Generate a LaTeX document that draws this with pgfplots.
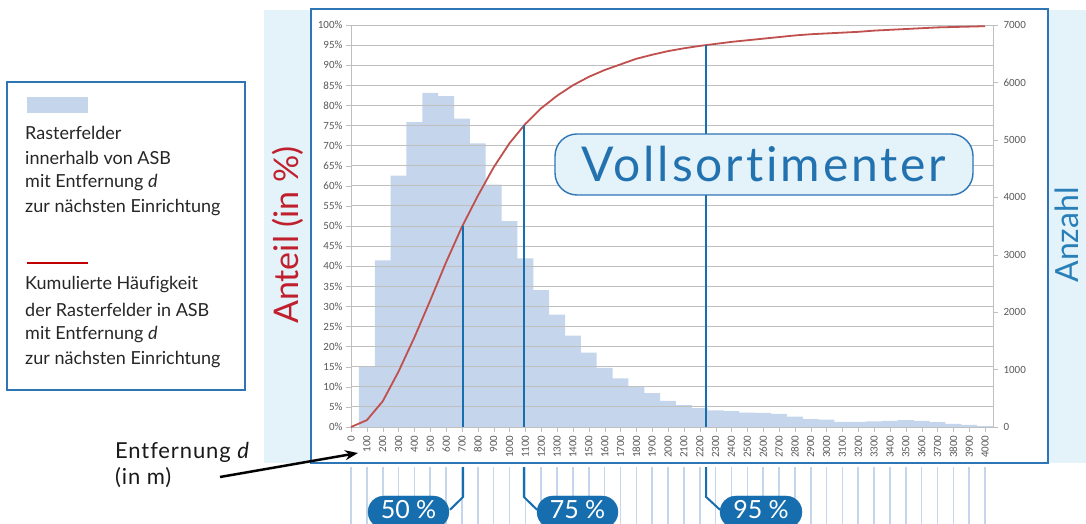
\documentclass[border=0pt]{standalone}
\usepackage{pgfplots}
\pgfplotsset{compat=1.18}
\usepackage{fontspec}
\setmainfont{Carlito}
\newfontfamily\lab[Ligatures=NoCommon]{Lato}
\usetikzlibrary{arrows.meta}
\definecolor{barblue}{RGB}{197,214,236}
\definecolor{curvered}{RGB}{192,80,77}
\definecolor{panel}{RGB}{228,242,250}
\definecolor{frame}{RGB}{46,117,182}
\definecolor{dblue}{RGB}{23,110,175}
\definecolor{ticklab}{RGB}{89,89,89}
\definecolor{gridc}{RGB}{191,191,191}
\definecolor{axred}{RGB}{192,32,45}
\definecolor{azblue}{RGB}{41,128,185}
\definecolor{titleblue}{RGB}{35,114,176}
\definecolor{legred}{RGB}{192,0,0}
\begin{document}
\begin{tikzpicture}
\useasboundingbox (0pt,0pt) rectangle (1086pt,524pt);
\begin{scope}[x=1pt,y=1pt]
\clip (0,0) rectangle (1086,524);
\fill[panel] (264,61) rectangle (1086,514);
\filldraw[fill=white, draw=frame, line width=1.2pt] (311,61) rectangle (1048,515);
\end{scope}

% counts axis (bars)
\begin{axis}[
  at={(351pt,97pt)}, anchor=south west, scale only axis,
  width=642pt, height=402pt,
  xmin=0, xmax=4050, ymin=0, ymax=7000,
  axis x line=none,
  axis y line*=right,
  ytick={0,1000,...,7000},
  y axis line style={draw=gridc, line width=0.8pt},
  ytick style={draw=gridc},
  tick align=outside, major tick length=5pt,
  yticklabel style={font=\fontsize{11}{11}\selectfont, text=ticklab, xshift=2pt},
  /pgf/number format/assume math mode=true,
  /pgf/number format/set thousands separator={},
]
\addplot[ybar, bar width=100, bar shift=0pt, fill=barblue, draw=none] coordinates {
(100,1050) (200,2900) (300,4375) (400,5310) (500,5820) (600,5760) (700,5370) (800,4940)
(900,4220) (1000,3585) (1100,2935) (1200,2385) (1300,1955) (1400,1590) (1500,1295)
(1600,1030) (1700,845) (1800,700) (1900,590) (2000,455) (2100,380) (2200,330) (2300,290)
(2400,275) (2500,250) (2600,245) (2700,230) (2800,180) (2900,135) (3000,130) (3100,90)
(3200,90) (3300,100) (3400,105) (3500,120) (3600,105) (3700,85) (3800,55) (3900,35) (4000,15)
};
\end{axis}

% percentage axis (curve)
\begin{axis}[
  at={(351pt,97pt)}, anchor=south west, scale only axis,
  width=642pt, height=402pt,
  xmin=0, xmax=4050, ymin=0, ymax=100,
  axis x line*=bottom, axis y line*=left,
  axis line style={draw=gridc, line width=0.8pt},
  xtick={0,100,...,4000}, ytick={0,5,...,100},
  ymajorgrids, grid style={draw=gridc, line width=0.8pt},
  tick style={draw=gridc},
  tick align=outside, major tick length=5pt,
  yticklabel={\pgfmathprintnumber{\tick}\%},
  ticklabel style={font=\fontsize{11}{11}\selectfont, text=ticklab},
  xticklabel style={rotate=90, anchor=east},
  clip=false,
  /pgf/number format/assume math mode=true,
  /pgf/number format/set thousands separator={},
]
\pgfplotsinvokeforeach{0,100,...,4000}{
  \draw[barblue, line width=1.6pt] (axis cs:#1,-10) -- (axis cs:#1,-24.3);
}
\addplot[curvered, line width=1.8pt] coordinates {
(0,0) (100,1.7) (200,6.4) (300,13.8) (400,22.3) (500,31.5) (600,41) (700,49.8) (800,57.5)
(900,64.6) (1000,70.6) (1100,75.4) (1200,79.3) (1300,82.4) (1400,85) (1500,87.1) (1600,88.8)
(1700,90.2) (1800,91.6) (1900,92.6) (2000,93.5) (2100,94.2) (2200,94.8) (2300,95.3) (2400,95.8)
(2500,96.2) (2600,96.6) (2700,97.0) (2800,97.4) (2900,97.7) (3000,97.9) (3100,98.1) (3200,98.3)
(3300,98.6) (3400,98.8) (3500,99.0) (3600,99.2) (3700,99.4) (3800,99.5) (3900,99.6) (4000,99.7)
};
\addplot[dblue, line width=2pt] coordinates {(706.6,0) (706.6,50)};
\addplot[dblue, line width=2pt] coordinates {(1091,0) (1091,75)};
\addplot[dblue, line width=2pt] coordinates {(2240,0) (2240,95)};
\addplot[dblue, line width=2pt] coordinates {(706.6,-10) (706.6,-17.4) (624.6,-20.6)};
\addplot[dblue, line width=2pt] coordinates {(1091,-10) (1091,-17.4) (1173.5,-20.6)};
\addplot[dblue, line width=2pt] coordinates {(2240,-10) (2240,-17.4) (2328,-20.6)};
\end{axis}

\begin{scope}[x=1pt,y=1pt]
\clip (0,0) rectangle (1086,524);
% title box
\filldraw[fill=panel, draw=frame, line width=1.4pt, rounded corners=22pt] (555,329) rectangle (973,390);
\node[text=titleblue, font=\lab\fontsize{48}{48}\selectfont\addfontfeatures{LetterSpace=6}] at (764,359.5) {Vollsortimenter};
% axis titles
\node[rotate=90, text=axred, font=\lab\fontsize{34}{34}\selectfont] at (288,289) {Anteil (in \%)};
\node[rotate=90, text=azblue, font=\lab\fontsize{32}{32}\selectfont, inner sep=0pt] at (1067,289) {Anzahl};
% legend
\filldraw[fill=white, draw=frame, line width=1.2pt] (7,134) rectangle (245,442);
\fill[barblue] (27,411) rectangle (88,427);
\draw[legred, line width=2.2pt] (27,261) -- (88,261);
\begin{scope}[every node/.style={anchor=west, inner sep=0pt, text=black!85, font=\lab\fontsize{18}{18}\selectfont}]
\node at (25,391) {Rasterfelder};
\node at (25,366) {innerhalb von ASB};
\node at (25,341) {mit Entfernung \textit{d}};
\node at (25,316) {zur nächsten Einrichtung};
\node at (25,239) {Kumulierte Häufigkeit};
\node at (25,214) {der Rasterfelder in ASB};
\node at (25,189) {mit Entfernung \textit{d}};
\node at (25,164) {zur nächsten Einrichtung};
\end{scope}
% Entfernung annotation
\node[anchor=west, inner sep=0pt, text=black!90, font=\lab\fontsize{22}{22}\selectfont\addfontfeatures{LetterSpace=4}] at (115,72) {Entfernung \textit{d}};
\node[anchor=west, inner sep=0pt, text=black!90, font=\lab\fontsize{22}{22}\selectfont\addfontfeatures{LetterSpace=4}] at (115,46) {(in m)};
\draw[black, line width=2.5pt, -{Stealth[length=13pt,width=10pt]}] (220,47) -- (358,71);
% badges
\filldraw[fill=dblue, draw=dblue, rounded corners=16pt] (368,-4) rectangle (449,28);
\node[text=white, font=\lab\fontsize{25}{25}\selectfont] at (408.5,14) {50 \%};
\filldraw[fill=dblue, draw=dblue, rounded corners=16pt] (537,-4) rectangle (618,28);
\node[text=white, font=\lab\fontsize{25}{25}\selectfont] at (577.5,14) {75 \%};
\filldraw[fill=dblue, draw=dblue, rounded corners=16pt] (720,-4) rectangle (802,28);
\node[text=white, font=\lab\fontsize{25}{25}\selectfont] at (761,14) {95 \%};
\end{scope}
\end{tikzpicture}
\end{document}
